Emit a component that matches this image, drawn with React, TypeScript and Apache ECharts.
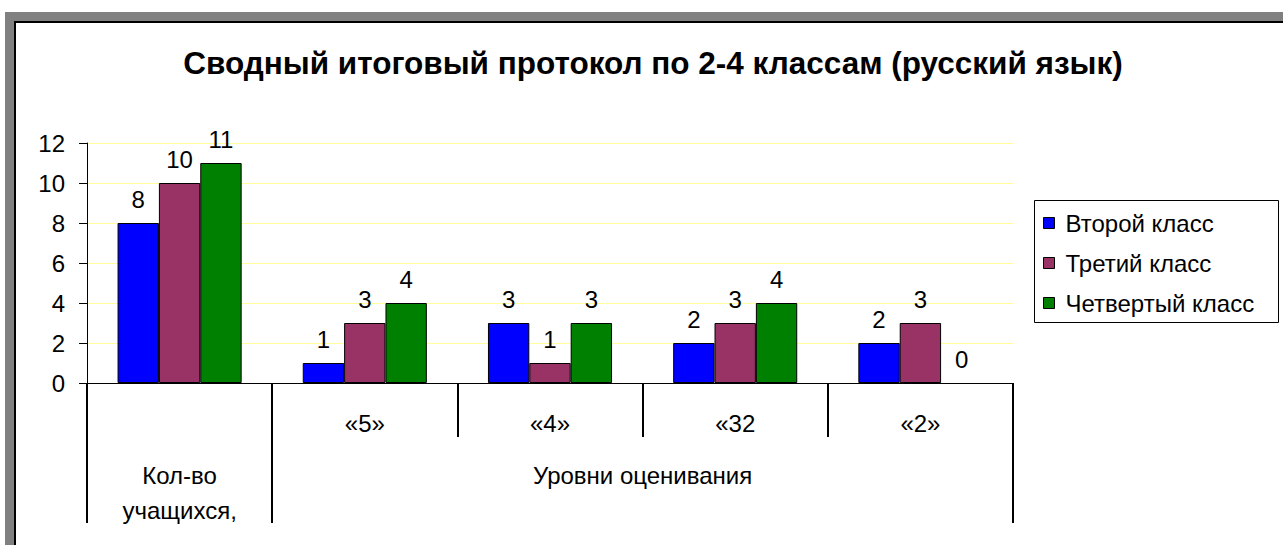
import React, { useEffect, useRef } from "react";
import * as echarts from "echarts";

const titleText = "Сводный итоговый протокол по 2-4 классам (русский язык)";
const categories = ["", "«5»", "«4»", "«32", "«2»"];
const seriesNames = ["Второй класс", "Третий класс", "Четвертый класс"];
const secondGrade = [8, 1, 3, 2, 2];
const thirdGrade = [10, 3, 1, 3, 3];
const fourthGrade = [11, 4, 3, 4, 0];
const seriesColors = ["#0000FF", "#993366", "#008000"];
const groupTickPositions = [0, 1, 5];
const groupLabelPositions = [0.5, 3];
const groupLabels = ["Кол-во\nучащихся,", "Уровни оценивания"];
const yMin = 0;
const yMax = 12;
const yInterval = 2;

const FONT = "'Liberation Sans', Arial, sans-serif";
const FS = 24;

export default function App() {
  const ref = useRef<HTMLDivElement>(null);
  useEffect(() => {
    if (!ref.current) return;
    const chart = echarts.init(ref.current, null, { renderer: "svg" });
    const data = [secondGrade, thirdGrade, fourthGrade];
    chart.setOption({
      animation: false,
      backgroundColor: "#ffffff",
      title: {
        text: titleText,
        left: 648,
        top: 42,
        textAlign: "center",
        textStyle: { fontFamily: FONT, fontSize: 31.5, fontWeight: "bold", color: "#000" },
      },
      legend: {
        orient: "vertical",
        left: 1043,
        top: 211,
        padding: 0,
        itemGap: 16,
        itemWidth: 11,
        itemHeight: 11,
        icon: "rect",
        data: seriesNames,
        itemStyle: { borderColor: "#000", borderWidth: 1 },
        textStyle: { fontFamily: FONT, fontSize: FS, lineHeight: 24, color: "#000", padding: [0, 0, 0, 6] },
      },
      grid: { left: 87, right: 270, top: 143, bottom: 162, containLabel: false },
      xAxis: [
        {
          type: "category",
          data: categories,
          position: "bottom",
          axisLine: { show: true, lineStyle: { color: "#000", width: 1 } },
          axisTick: { show: true, interval: 0, length: 54, lineStyle: { color: "#000", width: 2 } },
          axisLabel: { interval: 0, margin: 28, fontFamily: FONT, fontSize: FS, color: "#000" },
          splitLine: { show: false },
        },
        {
          type: "value",
          min: 0,
          max: 5,
          position: "bottom",
          axisLine: { show: false },
          axisTick: { show: true, customValues: groupTickPositions, length: 140, lineStyle: { color: "#000", width: 2 } },
          axisLabel: {
            customValues: groupLabelPositions,
            formatter: (v: number) => groupLabels[groupLabelPositions.indexOf(v)] ?? "",
            margin: 75,
            fontFamily: FONT,
            fontSize: FS,
            lineHeight: 35,
            color: "#000",
            verticalAlign: "top",
            align: "center",
          },
          splitLine: { show: false },
        },
      ],
      yAxis: {
        type: "value",
        min: yMin,
        max: yMax,
        interval: yInterval,
        axisLine: { show: true, lineStyle: { color: "#000", width: 1 } },
        axisTick: { show: true, length: 8, lineStyle: { color: "#000" } },
        axisLabel: { margin: 22, fontFamily: FONT, fontSize: FS, color: "#000" },
        splitLine: { show: true, lineStyle: { color: "#ffff9c", width: 1 } },
      },
      series: seriesNames.map((name, i) => ({
        name,
        type: "bar",
        data: data[i].map((v) => (v === 0 ? { value: v, itemStyle: { borderWidth: 0 } } : v)),
        barGap: "0%",
        barCategoryGap: "33%",
        itemStyle: { color: seriesColors[i], borderColor: "#000", borderWidth: 1 },
        label: {
          show: true,
          position: "top",
          distance: 12,
          fontFamily: FONT,
          fontSize: FS,
          color: "#000",
        },
      })),
      graphic: [
        { type: "rect", shape: { x: 5, y: 12, width: 1278, height: 9 }, style: { fill: "#808080" }, silent: true },
        { type: "rect", shape: { x: 5, y: 12, width: 9, height: 533 }, style: { fill: "#808080" }, silent: true },
        { type: "rect", shape: { x: 14, y: 21, width: 1269, height: 2 }, style: { fill: "#000" }, silent: true },
        { type: "rect", shape: { x: 14, y: 21, width: 2, height: 524 }, style: { fill: "#000" }, silent: true },
        {
          type: "rect",
          shape: { x: 1034.5, y: 200.5, width: 244, height: 122 },
          style: { fill: "none", stroke: "#000", lineWidth: 1 },
          silent: true,
        },
      ],
    });
    return () => chart.dispose();
  }, []);
  return (
    <div
      ref={ref}
      style={{ position: "fixed", left: 0, top: 0, width: 1283, height: 545 }}
    />
  );
}
